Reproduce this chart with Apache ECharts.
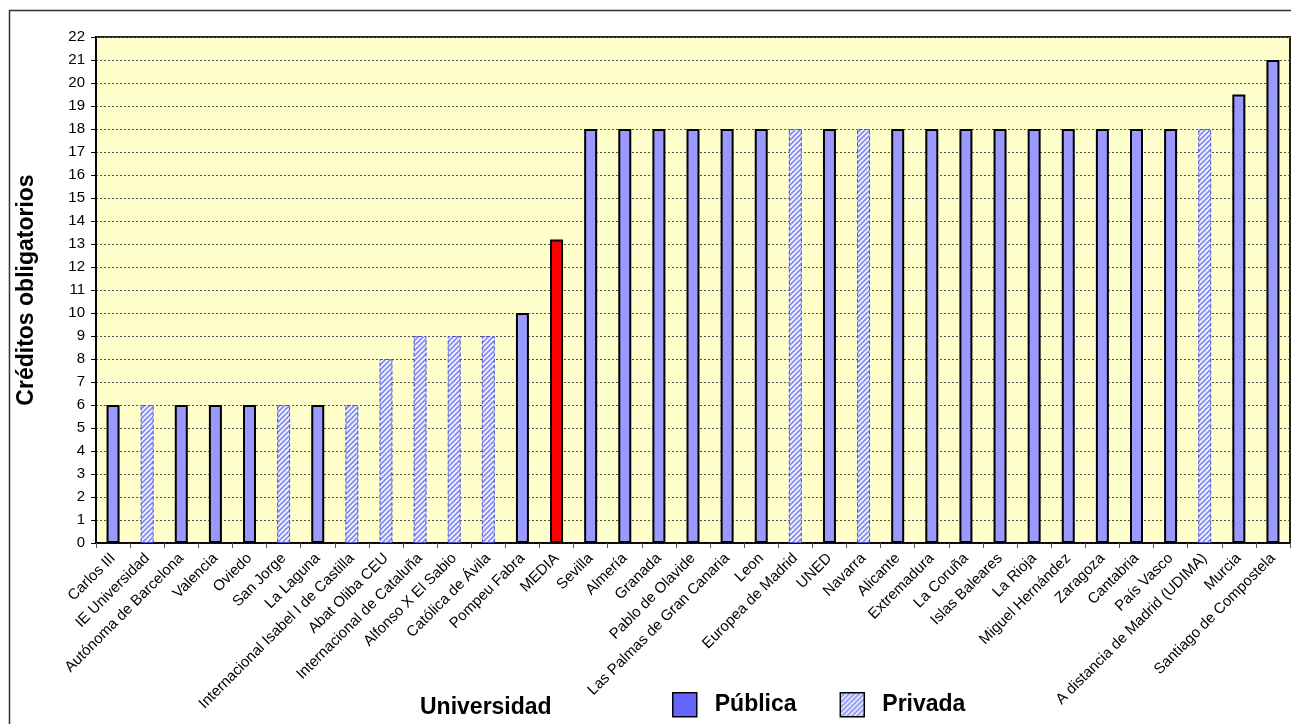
<!DOCTYPE html>
<html>
<head>
<meta charset="utf-8">
<script src="https://cdn.jsdelivr.net/npm/echarts@6/dist/echarts.min.js"></script>
<style>html,body{margin:0;padding:0;background:#fff;}#c{width:1291px;height:724px;}</style>
</head>
<body>
<div id="c"></div>
<script>
const categories = ['Carlos III','IE Universidad','Autónoma de Barcelona','Valencia','Oviedo','San Jorge','La Laguna','Internacional Isabel I de Castilla','Abat Oliba CEU','Internacional de Cataluña','Alfonso X El Sabio','Católica de Ávila','Pompeu Fabra','MEDIA','Sevilla','Almería','Granada','Pablo de Olavide','Las Palmas de Gran Canaria','Leon','Europea de Madrid','UNED','Navarra','Alicante','Extremadura','La Coruña','Islas Baleares','La Rioja','Miguel Hernández','Zaragoza','Cantabria','País Vasco','A distancia de Madrid (UDIMA)','Murcia','Santiago de Compostela'];
const values = [6,6,6,6,6,6,6,6,8,9,9,9,10,13.2,18,18,18,18,18,18,18,18,18,18,18,18,18,18,18,18,18,18,18,19.5,21];
const types = ['pub','priv','pub','pub','pub','priv','pub','priv','priv','priv','priv','priv','pub','media','pub','pub','pub','pub','pub','pub','priv','pub','priv','pub','pub','pub','pub','pub','pub','pub','pub','pub','priv','pub','pub'];
const yTicks = [0,1,2,3,4,5,6,7,8,9,10,11,12,13,14,15,16,17,18,19,20,21,22];

function hatch(){
  const s = 5;
  const c = document.createElement('canvas');
  c.width = s; c.height = s;
  const g = c.getContext('2d');
  g.fillStyle = '#ffffff'; g.fillRect(0,0,s,s);
  g.strokeStyle = '#8c94f2'; g.lineWidth = 2;
  g.beginPath();
  g.moveTo(0,s); g.lineTo(s,0);
  g.moveTo(-1,1); g.lineTo(1,-1);
  g.moveTo(s-1,s+1); g.lineTo(s+1,s-1);
  g.stroke();
  return {image: c, repeat: 'repeat'};
}
const hatchFill = hatch();

const pubData = values.map((v,i)=> types[i]==='pub' ? v : (types[i]==='media' ? {value: v, itemStyle:{color:'#ff0000'}} : '-'));
const privData = values.map((v,i)=> types[i]==='priv' ? v : '-');

const FF = 'Liberation Sans, Arial, sans-serif';
const chart = echarts.init(document.getElementById('c'));
chart.setOption({
  animation: false,
  textStyle: {fontFamily: FF, color: '#000'},
  grid: {left: 96, right: 1, top: 37, bottom: 181, show: true, backgroundColor: '#ffffcc', borderColor: '#222', borderWidth: 2},
  legend: {
    left: 667, top: 687, itemWidth: 24, itemHeight: 24, itemGap: 43, icon: 'rect',
    textStyle: {fontSize: 23, fontWeight: 'bold', color: '#000', fontFamily: FF, padding: [0,0,0,13]},
    data: [
      {name: 'Pública', itemStyle: {color: '#6666ff', borderColor: '#000', borderWidth: 1.5, borderType: 'solid'}},
      {name: 'Privada', itemStyle: {color: hatchFill, borderColor: '#000', borderWidth: 1.5, borderType: 'solid'}}
    ]
  },
  xAxis: {
    type: 'category', data: categories,
    axisLine: {lineStyle: {color: '#000', width: 1.5}},
    axisTick: {show: true, length: 5, lineStyle: {color: '#555'}},
    axisLabel: {rotate: 45, fontSize: 15, color: '#000', interval: 0, margin: 13, fontFamily: FF}
  },
  yAxis: {
    type: 'value', min: 0, max: 22, interval: 1,
    name: 'Créditos obligatorios', nameLocation: 'middle', nameGap: 58,
    nameTextStyle: {fontSize: 23, fontWeight: 'bold', color: '#000', fontFamily: FF},
    axisLine: {show: true, lineStyle: {color: '#000', width: 1.5}},
    axisTick: {show: true, length: 5, lineStyle: {color: '#000'}},
    axisLabel: {fontSize: 15, color: '#000', margin: 11, fontFamily: FF, formatter: v => yTicks.includes(v) ? String(v) : ''},
    splitLine: {show: true, lineStyle: {color: '#555', type: [2,2], width: 1}}
  },
  series: [
    {name: 'Pública', type: 'bar', stack: 'a', barWidth: 13, data: pubData,
     itemStyle: {color: '#9999ff', borderColor: '#000', borderWidth: 2}},
    {name: 'Privada', type: 'bar', stack: 'a', barWidth: 13, data: privData,
     itemStyle: {color: hatchFill, borderColor: '#4a4adf', borderWidth: 1, borderType: 'dashed'}}
  ],
  graphic: [
    {type: 'rect', left: 7, top: 8, shape: {width: 1300, height: 730}, style: {fill: 'none', stroke: '#333', lineWidth: 1.5}, silent: true},
    {type: 'text', left: 420, top: 696, style: {text: 'Universidad', fontSize: 23, fontWeight: 'bold', fill: '#000', fontFamily: FF}}
  ]
});
</script>
</body>
</html>
